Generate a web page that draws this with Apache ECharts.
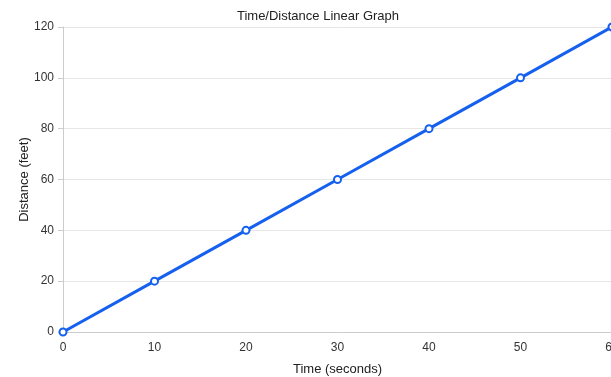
<!DOCTYPE html>
<html>
<head>
<meta charset="utf-8">
<script src="https://cdn.jsdelivr.net/npm/echarts@6/dist/echarts.min.js"></script>
<style>
  html, body { margin: 0; padding: 0; background: #fff; }
  #chart { width: 611px; height: 377px; }
</style>
</head>
<body>
<div id="chart"></div>
<script>
// time in seconds, distance in feet
const timeValues = [0, 10, 20, 30, 40, 50, 60]
const distanceValues = [0, 20, 40, 60, 80, 100, 120]

const points = timeValues.map((t, i) => [t, distanceValues[i]])

const myChart = echarts.init(document.getElementById('chart'), null, { renderer: 'canvas' })
const font = 'Liberation Sans, Arial, Helvetica, sans-serif'

const option = {
  animation: false,
  backgroundColor: '#fff',
  title: {
    text: 'Time/Distance Linear Graph',
    left: 313,
    top: 5,
    textAlign: 'center',
    textStyle: { fontFamily: font, fontSize: 13, fontWeight: 'normal', color: '#222' },
  },
  grid: {
    left: 63,
    top: 27,
    width: 549,
    height: 305,
    containLabel: false,
    outerBoundsMode: 'none',
  },
  xAxis: {
    type: 'value',
    min: 0,
    max: 60,
    interval: 10,
    name: 'Time (seconds)',
    nameLocation: 'middle',
    nameGap: 31,
    nameMoveOverlap: false,
    nameTextStyle: { fontFamily: font, fontSize: 13, color: '#222' },
    axisLine: { show: true, lineStyle: { color: '#cccccc', width: 1 } },
    axisTick: { show: false },
    splitLine: { show: false },
    axisLabel: { fontFamily: font, fontSize: 12, color: '#333', margin: 10 },
  },
  yAxis: {
    type: 'value',
    min: 0,
    max: 120,
    interval: 20,
    name: 'Distance (feet)',
    nameLocation: 'middle',
    nameGap: 32,
    nameRotate: 90,
    nameMoveOverlap: false,
    nameTextStyle: { fontFamily: font, fontSize: 13, color: '#222' },
    axisLine: { show: true, lineStyle: { color: '#cccccc', width: 1 } },
    axisTick: { show: true, length: 5, lineStyle: { color: '#cccccc' } },
    splitLine: { show: true, lineStyle: { color: '#e6e6e6', width: 1 } },
    axisLabel: { fontFamily: font, fontSize: 12, color: '#333', margin: 9 },
  },
  series: [
    {
      type: 'line',
      data: points,
      color: '#1560ee',
      lineStyle: { width: 3, color: '#1560ee' },
      symbol: 'circle',
      symbolSize: 7,
      itemStyle: { color: '#ffffff', borderColor: '#1560ee', borderWidth: 2 },
      clip: false,
    },
  ],
}

myChart.setOption(option)
</script>
</body>
</html>
